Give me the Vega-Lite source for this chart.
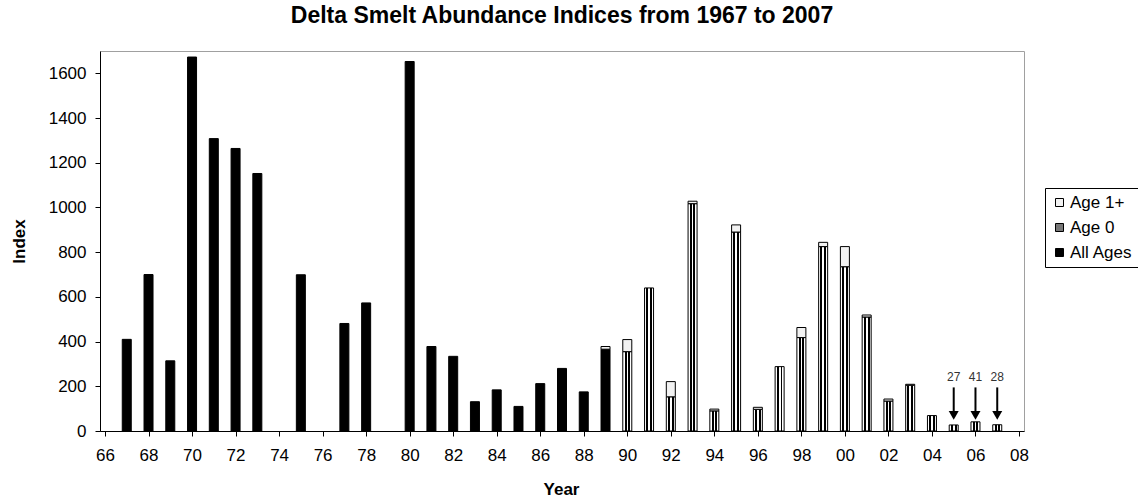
{
  "$schema": "https://vega.github.io/schema/vega-lite/v6.json",
  "autosize": {"type": "none"},
  "padding": {"left": 100, "top": 51, "right": 114, "bottom": 67},
  "width": 924,
  "height": 380,
  "background": "white",
  "title": {
    "text": "Delta Smelt Abundance Indices from 1967 to 2007",
    "font": "Liberation Sans",
    "fontSize": 23,
    "fontWeight": "bold",
    "color": "black",
    "anchor": "middle",
    "offset": 23
  },
  "config": {
    "font": "Liberation Sans",
    "view": {"stroke": "#a0a0a0", "strokeWidth": 1},
    "axis": {
      "domainColor": "black",
      "tickColor": "black",
      "labelColor": "black",
      "titleColor": "black",
      "labelFont": "Liberation Sans",
      "titleFont": "Liberation Sans",
      "labelFontSize": 17,
      "titleFontSize": 17,
      "titleFontWeight": "bold",
      "tickSize": 5,
      "grid": false
    }
  },
  "datasets": {
    "bars": [
      {"year": 1967, "series": "All Ages", "value": 410},
      {"year": 1968, "series": "All Ages", "value": 700},
      {"year": 1969, "series": "All Ages", "value": 314},
      {"year": 1970, "series": "All Ages", "value": 1673},
      {"year": 1971, "series": "All Ages", "value": 1308},
      {"year": 1972, "series": "All Ages", "value": 1264},
      {"year": 1973, "series": "All Ages", "value": 1152},
      {"year": 1975, "series": "All Ages", "value": 699},
      {"year": 1977, "series": "All Ages", "value": 481},
      {"year": 1978, "series": "All Ages", "value": 573},
      {"year": 1980, "series": "All Ages", "value": 1653},
      {"year": 1981, "series": "All Ages", "value": 378},
      {"year": 1982, "series": "All Ages", "value": 334},
      {"year": 1983, "series": "All Ages", "value": 131},
      {"year": 1984, "series": "All Ages", "value": 184},
      {"year": 1985, "series": "All Ages", "value": 110},
      {"year": 1986, "series": "All Ages", "value": 212},
      {"year": 1987, "series": "All Ages", "value": 280},
      {"year": 1988, "series": "All Ages", "value": 175},
      {"year": 1989, "series": "All Ages", "value": 366},
      {"year": 1989, "series": "Age 1+", "value": 12},
      {"year": 1990, "series": "Age 0", "value": 355},
      {"year": 1990, "series": "Age 1+", "value": 54},
      {"year": 1991, "series": "Age 0", "value": 640},
      {"year": 1992, "series": "Age 0", "value": 153},
      {"year": 1992, "series": "Age 1+", "value": 68},
      {"year": 1993, "series": "Age 0", "value": 1017},
      {"year": 1993, "series": "Age 1+", "value": 11},
      {"year": 1994, "series": "Age 0", "value": 90},
      {"year": 1994, "series": "Age 1+", "value": 8},
      {"year": 1995, "series": "Age 0", "value": 890},
      {"year": 1995, "series": "Age 1+", "value": 32},
      {"year": 1996, "series": "Age 0", "value": 97},
      {"year": 1996, "series": "Age 1+", "value": 9},
      {"year": 1997, "series": "Age 0", "value": 288},
      {"year": 1998, "series": "Age 0", "value": 418},
      {"year": 1998, "series": "Age 1+", "value": 45},
      {"year": 1999, "series": "Age 0", "value": 825},
      {"year": 1999, "series": "Age 1+", "value": 19},
      {"year": 2000, "series": "Age 0", "value": 735},
      {"year": 2000, "series": "Age 1+", "value": 90},
      {"year": 2001, "series": "Age 0", "value": 510},
      {"year": 2001, "series": "Age 1+", "value": 9},
      {"year": 2002, "series": "Age 0", "value": 134},
      {"year": 2002, "series": "Age 1+", "value": 9},
      {"year": 2003, "series": "Age 0", "value": 205},
      {"year": 2003, "series": "Age 1+", "value": 4},
      {"year": 2004, "series": "Age 0", "value": 69},
      {"year": 2005, "series": "Age 0", "value": 27},
      {"year": 2006, "series": "Age 0", "value": 41},
      {"year": 2007, "series": "Age 0", "value": 28}
    ],
    "arrows": [
      {"year": 2005, "value": 27},
      {"year": 2006, "value": 41},
      {"year": 2007, "value": 28}
    ]
  },
  "layer": [
    {
      "data": {"name": "bars"},
      "mark": {"type": "bar", "size": 9, "stroke": "black", "strokeWidth": 1},
      "encoding": {
        "x": {
          "field": "year",
          "type": "quantitative",
          "scale": {"domain": [1966, 2008], "nice": false, "zero": false},
          "axis": {
            "title": "Year",
            "values": [1966,1967,1968,1969,1970,1971,1972,1973,1974,1975,1976,1977,1978,1979,1980,1981,1982,1983,1984,1985,1986,1987,1988,1989,1990,1991,1992,1993,1994,1995,1996,1997,1998,1999,2000,2001,2002,2003,2004,2005,2006,2007,2008],
            "labelExpr": "datum.value % 2 === 0 ? slice(toString(datum.value), 2) : ''",
            "labelFlush": false,
            "labelOverlap": false,
            "labelBound": false,
            "labelAlign": "center",
            "labelPadding": 11,
            "titleX": 461,
            "titleY": 63,
            "titleBaseline": "alphabetic",
            "titleAlign": "center"
          }
        },
        "y": {
          "field": "value",
          "type": "quantitative",
          "stack": "zero",
          "scale": {"domain": [0, 1700], "nice": false},
          "axis": {
            "title": "Index",
            "format": "d",
            "values": [0, 200, 400, 600, 800, 1000, 1200, 1400, 1600],
            "labelPadding": 9,
            "titleX": -81,
            "titleY": 190,
            "titleAngle": -90,
            "titleAlign": "center",
            "titleBaseline": "middle"
          }
        },
        "color": {
          "condition": {
            "test": "datum.series === 'Age 0'",
            "value": {"gradient": "linear", "x1": 0, "y1": 0, "x2": 1, "y2": 0, "stops": [
              {"offset": 0, "color": "white"},
              {"offset": 0.2, "color": "white"},
              {"offset": 0.2, "color": "black"},
              {"offset": 0.42, "color": "black"},
              {"offset": 0.42, "color": "white"},
              {"offset": 0.6, "color": "white"},
              {"offset": 0.6, "color": "black"},
              {"offset": 0.82, "color": "black"},
              {"offset": 0.82, "color": "white"},
              {"offset": 1, "color": "white"}
            ]}
          },
          "field": "series",
          "type": "nominal",
          "scale": {
            "domain": ["Age 1+", "Age 0", "All Ages"],
            "range": ["#f2f2f2", "#777777", "black"]
          },
          "legend": {
            "title": null,
            "orient": "none",
            "legendX": 945,
            "legendY": 137,
            "strokeColor": "black",
            "fillColor": "white",
            "padding": 6,
            "symbolType": "square",
            "symbolSize": 64,
            "symbolStrokeColor": "black",
            "symbolStrokeWidth": 1,
            "labelFont": "Liberation Sans",
            "labelFontSize": 17,
            "labelColor": "black",
            "labelOffset": 2,
            "rowPadding": 7
          }
        },
        "order": {"field": "value", "sort": "descending"}
      }
    },
    {
      "data": {"name": "arrows"},
      "mark": {"type": "rule", "strokeWidth": 2, "color": "black"},
      "encoding": {
        "x": {"field": "year", "type": "quantitative"},
        "y": {"datum": 195},
        "y2": {"datum": 88}
      }
    },
    {
      "data": {"name": "arrows"},
      "mark": {"type": "point", "shape": "triangle-down", "filled": true, "size": 100, "color": "black", "opacity": 1},
      "encoding": {
        "x": {"field": "year", "type": "quantitative"},
        "y": {"datum": 70}
      }
    },
    {
      "data": {"name": "arrows"},
      "mark": {"type": "text", "fontSize": 12, "color": "#333333", "baseline": "middle", "font": "Liberation Sans"},
      "encoding": {
        "x": {"field": "year", "type": "quantitative"},
        "y": {"datum": 240},
        "text": {"field": "value", "type": "quantitative"}
      }
    }
  ]
}
